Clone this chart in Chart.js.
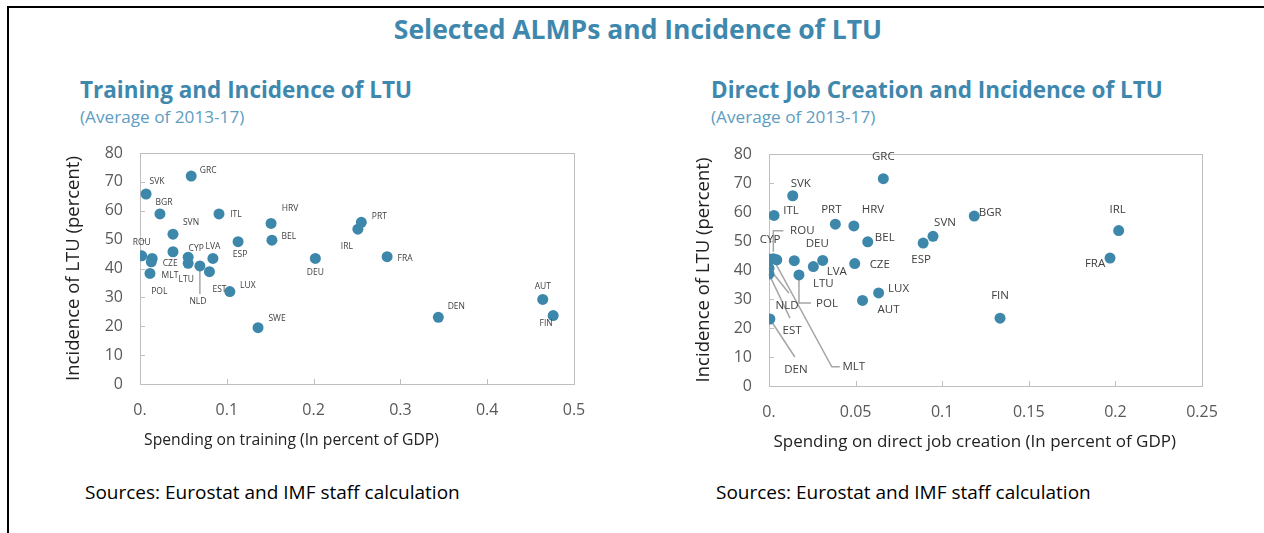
<!DOCTYPE html>
<html>
<head>
<meta charset="utf-8">
<script src="https://cdn.jsdelivr.net/npm/chart.js@4.4.0/dist/chart.umd.min.js"></script>
<style>
  body { margin: 0; width: 1264px; height: 533px; background: #fff; position: relative; overflow: hidden; font-family: 'Open Sans', sans-serif; }
  #frame { position: absolute; left: 7px; top: 6px; right: -4px; bottom: -4px; border-top: 2px solid #000; border-left: 2px solid #000; }
  .t { position: absolute; white-space: nowrap; }
  .main { top: 11px; left: 0; width: 1276px; text-align: center; font-size: 26.5px; font-weight: 700; color: #3e88ae; }
  .sub { font-size: 22.5px; font-weight: 700; color: #3e88ae; }
  .avg { font-size: 17.2px; color: #5e9dc2; }
  .src { font-size: 19px; color: #000; }
  .box { position: absolute; }
</style>
</head>
<body>
<div id="frame"></div>
<div class="t main">Selected ALMPs and Incidence of LTU</div>
<div class="t sub" style="left:80px; top:74px;">Training and Incidence of LTU</div>
<div class="t avg" style="left:80px; top:105px;">(Average of 2013-17)</div>
<div class="t sub" style="left:711px; top:74px;">Direct Job Creation and Incidence of LTU</div>
<div class="t avg" style="left:711px; top:105px;">(Average of 2013-17)</div>
<div class="t src" style="left:85px; top:479px;">Sources: Eurostat and IMF staff calculation</div>
<div class="t src" style="left:716px; top:479px;">Sources: Eurostat and IMF staff calculation</div>
<div class="box" style="left:63px; top:140px; width:525px; height:310px;"><canvas id="c1"></canvas></div>
<div class="box" style="left:693px; top:140px; width:527px; height:312px;"><canvas id="c2"></canvas></div>
<script>
// Training chart
const trainCountries = ['SVK', 'GRC', 'BGR', 'ITL', 'HRV', 'BEL', 'SVN', 'ROU', 'CZE', 'POL', 'MLT', '', 'CYP', 'LTU',
  'NLD', 'LVA', 'EST', 'LUX', 'ESP', 'SWE', 'DEU', 'IRL', 'PRT', 'FRA', 'DEN', 'AUT', 'FIN'];
const trainSpending = [0.007, 0.059, 0.023, 0.091, 0.151, 0.152, 0.038, 0.002, 0.014, 0.013, 0.0115, 0.038, 0.0555, 0.0555,
  0.069, 0.084, 0.080, 0.1035, 0.113, 0.136, 0.202, 0.251, 0.255, 0.2847, 0.3437, 0.464, 0.476];
const trainLTU = [65.8, 72.0, 58.9, 58.9, 55.6, 49.8, 51.9, 44.4, 43.5, 42.3, 38.3, 45.8, 43.9, 41.8,
  40.9, 43.5, 38.9, 32.0, 49.3, 19.5, 43.5, 53.6, 56.0, 44.1, 23.1, 29.3, 23.7];

// Direct job creation chart
const djcCountries = ['GRC', 'SVK', 'ITL', 'PRT', 'HRV', 'BEL', 'ESP', 'SVN', 'BGR', 'IRL', 'FRA', 'FIN', 'CYP', 'ROU',
  'MLT', 'NLD', 'EST', 'DEN', 'DEU', 'LTU', 'LVA', 'POL', 'CZE', 'LUX', 'AUT'];
const djcSpending = [0.066, 0.0137, 0.0029, 0.0383, 0.049, 0.057, 0.089, 0.0947, 0.1185, 0.2019, 0.1969, 0.1334, 0.0006, 0.0025,
  0.0045, 0.0, 0.0, 0.0005, 0.0146, 0.0256, 0.031, 0.0173, 0.0495, 0.0633, 0.054];
const djcLTU = [71.5, 65.6, 58.8, 55.8, 55.2, 49.7, 49.3, 51.6, 58.6, 53.6, 44.1, 23.4, 43.7, 43.9,
  43.5, 40.6, 38.6, 23.1, 43.2, 41.2, 43.3, 38.3, 42.2, 32.1, 29.5];

const ltuTicks = [0, 10, 20, 30, 40, 50, 60, 70, 80];
const trainTicks = [0, 0.1, 0.2, 0.3, 0.4, 0.5];
const djcTicks = [0, 0.05, 0.1, 0.15, 0.2, 0.25];

// label placement (pixel offset of label centre from its point)
const trainLabelPos = {
  SVK: [11, -12], GRC: [17, -6], BGR: [4, -11], ITL: [17, 1], HRV: [19, -15], BEL: [17, -4], SVN: [18, -12],
  ROU: [0, -13], CZE: [18, 5], MLT: [20, 2], POL: [8, 30], CYP: [8, -9], LTU: [-2, 16], NLD: [-2, 36],
  LVA: [0, -12], EST: [10, 18], LUX: [18, -6], ESP: [2, 13], SWE: [19, -9], DEU: [0, 14], IRL: [-11, 17],
  PRT: [18, -6], FRA: [18, 2], DEN: [18, -11], AUT: [0, -13], FIN: [-7, 8]
};
const trainLeaders = { NLD: [[0, 5], [0, 28]] };

const djcLabelPos = {
  GRC: [0, -22], SVK: [8, -12], ITL: [17, -5], PRT: [-4, -14], HRV: [19, -16], BEL: [17, -4], SVN: [12, -14],
  ESP: [-2, 17], CZE: [25, 1], LUX: [20, -4], AUT: [26, 9], DEU: [23, -17], LVA: [14, 11], LTU: [10, 17],
  POL: [28, 29], CYP: [0, -20], ROU: [29, -28], MLT: [77, 107], NLD: [18, 37], EST: [23, 57], DEN: [26, 51],
  IRL: [-1, -21], BGR: [16, -3], FRA: [-15, 6], FIN: [0, -22]
};
const djcLeaders = {
  ROU: [[0, -7], [0, -28], [10, -28]],
  MLT: [[-2, 2], [55, 107], [63, 107]],
  NLD: [[0, 0], [20, 25]],
  EST: [[0, 0], [21, 44]],
  DEN: [[0, 0], [25, 38]],
  POL: [[0, 5], [0, 28], [12, 28]]
};

function makeDecor(names, labelPos, leaders, fontSize) {
  return {
    id: 'decor',
    beforeDatasetsDraw: function(chart) {
      const ctx = chart.ctx;
      const a = chart.chartArea;
      const xs = chart.scales.x;
      const ys = chart.scales.y;
      ctx.save();
      ctx.strokeStyle = '#bfbfbf';
      ctx.lineWidth = 1;
      ctx.strokeRect(Math.round(a.left) + 0.5, Math.round(a.top) + 0.5, Math.round(a.width), Math.round(a.height));
      ctx.beginPath();
      xs.ticks.forEach(function(t) {
        const px = Math.round(xs.getPixelForValue(t.value)) + 0.5;
        ctx.moveTo(px, a.bottom);
        ctx.lineTo(px, a.bottom - 5);
      });
      ys.ticks.forEach(function(t) {
        const py = Math.round(ys.getPixelForValue(t.value)) + 0.5;
        ctx.moveTo(a.left, py);
        ctx.lineTo(a.left + 5, py);
      });
      ctx.stroke();
      // leader lines
      ctx.strokeStyle = '#a6a6a6';
      ctx.lineWidth = 1.5;
      const meta = chart.getDatasetMeta(0);
      meta.data.forEach(function(pt, i) {
        const l = leaders[names[i]];
        if (!l) return;
        ctx.beginPath();
        l.forEach(function(p, j) {
          if (j === 0) ctx.moveTo(pt.x + p[0], pt.y + p[1]);
          else ctx.lineTo(pt.x + p[0], pt.y + p[1]);
        });
        ctx.stroke();
      });
      ctx.restore();
    },
    afterDatasetsDraw: function(chart) {
      const ctx = chart.ctx;
      ctx.save();
      ctx.font = fontSize + "px 'Open Sans', sans-serif";
      ctx.fillStyle = '#404040';
      ctx.textAlign = 'center';
      ctx.textBaseline = 'middle';
      const meta = chart.getDatasetMeta(0);
      meta.data.forEach(function(pt, i) {
        const pos = labelPos[names[i]];
        if (!pos) return;
        ctx.fillText(names[i], pt.x + pos[0], pt.y + pos[1]);
      });
      ctx.restore();
    }
  };
}

function fmt(v) {
  return v === 0 ? '0.' : String(Number(v.toFixed(2)));
}

function noPad(s) {
  s.paddingTop = 0;
  s.paddingBottom = 0;
  s.paddingLeft = 0;
  s.paddingRight = 0;
}

function makeChart(id, names, xs, ys, xTicks, xMax, xTitle, xTitleSize, labelPos, leaders, fontSize, yWidth, xHeight, pad) {
  const points = xs.map(function(x, i) { return { x: x, y: ys[i] }; });
  return new Chart(document.getElementById(id), {
    type: 'scatter',
    plugins: [makeDecor(names, labelPos, leaders, fontSize)],
    data: {
      datasets: [{
        data: points,
        pointRadius: 5.5,
        pointHoverRadius: 5.5,
        backgroundColor: '#3d87ab',
        borderWidth: 0
      }]
    },
    options: {
      responsive: true,
      maintainAspectRatio: false,
      animation: false,
      events: [],
      layout: { padding: pad },
      plugins: { legend: { display: false }, tooltip: { enabled: false } },
      scales: {
        x: {
          type: 'linear',
          min: 0,
          max: xMax,
          afterBuildTicks: function(s) { s.ticks = xTicks.map(function(v) { return { value: v }; }); },
          afterFit: function(s) { s.height = xHeight; noPad(s); },
          grid: { display: false, drawTicks: false },
          border: { display: false },
          ticks: { padding: 17, color: '#595959', font: { family: "'Open Sans', sans-serif", size: 16 }, callback: fmt, maxRotation: 0 },
          title: { display: true, align: 'start', text: xTitle, color: '#222', font: { family: "'Open Sans', sans-serif", size: xTitleSize }, padding: { top: 6, bottom: 0 } }
        },
        y: {
          type: 'linear',
          min: 0,
          max: 80,
          afterBuildTicks: function(s) { s.ticks = ltuTicks.map(function(v) { return { value: v }; }); },
          afterFit: function(s) { s.width = yWidth; noPad(s); },
          grid: { display: false, drawTicks: false },
          border: { display: false },
          ticks: { padding: 17, color: '#595959', font: { family: "'Open Sans', sans-serif", size: 16 } },
          title: { display: true, text: 'Incidence of LTU (percent)', color: '#222', font: { family: "'Open Sans', sans-serif", size: 18.5 }, padding: 0 }
        }
      }
    }
  });
}

makeChart('c1', trainCountries, trainSpending, trainLTU, trainTicks, 0.5, ' Spending on training (In percent of GDP)', 15.7,
  trainLabelPos, trainLeaders, 8.5, 77, 66, { top: 13, right: 14, left: 0, bottom: 0 });
makeChart('c2', djcCountries, djcSpending, djcLTU, djcTicks, 0.25, ' Spending on direct job creation (In percent of GDP)', 17,
  djcLabelPos, djcLeaders, 11.5, 76, 66, { top: 14, right: 18, left: 0, bottom: 0 });
</script>
</body>
</html>
